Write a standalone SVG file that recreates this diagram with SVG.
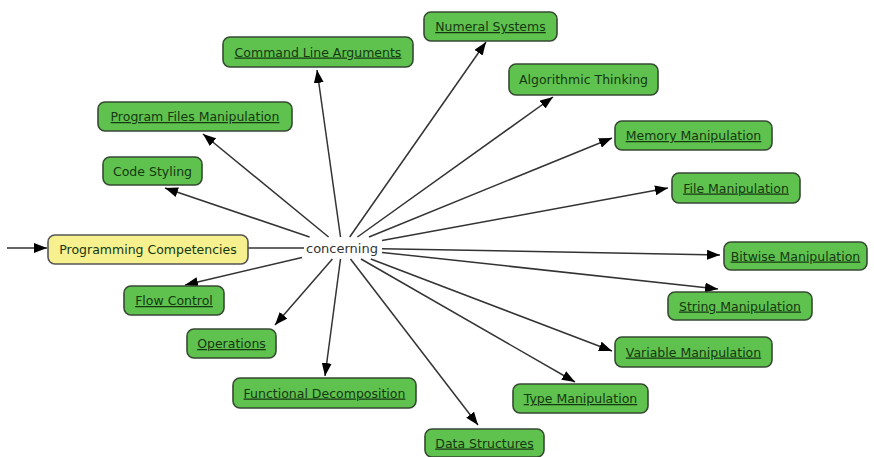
<svg xmlns="http://www.w3.org/2000/svg" width="874" height="457" viewBox="0 0 874 457">
<style>
.n rect{fill:#60c24e;stroke:#364a32;stroke-width:1.6}
.y rect{fill:#f6f08e;stroke:#555;stroke-width:1.6}
text{font-family:"DejaVu Sans",Verdana,sans-serif;font-size:12.5px;text-anchor:middle;fill:#143812}
.u{text-decoration:underline}
.c{fill:#333;font-size:13px}
#edges line{stroke:#333;stroke-width:1.5}
</style>
<defs>
<marker id="ah" markerUnits="userSpaceOnUse" markerWidth="13" markerHeight="10" refX="13" refY="5" orient="auto">
<path d="M0,0 L13,5 L0,10 z" fill="#000"/>
</marker>
</defs>
<rect width="874" height="457" fill="#fff"/>
<g id="edges">
<line x1="7" y1="248" x2="47" y2="248" marker-end="url(#ah)"/>
<line x1="248" y1="248" x2="304" y2="248"/>
<line x1="349.7" y1="237" x2="486" y2="42" marker-end="url(#ah)"/>
<line x1="340.5" y1="237" x2="317" y2="70" marker-end="url(#ah)"/>
<line x1="357.4" y1="237" x2="553" y2="97" marker-end="url(#ah)"/>
<line x1="328.6" y1="237" x2="203" y2="134" marker-end="url(#ah)"/>
<line x1="309.6" y1="237" x2="165" y2="188" marker-end="url(#ah)"/>
<line x1="369" y1="237" x2="612" y2="138" marker-end="url(#ah)"/>
<line x1="382" y1="240.6" x2="668" y2="188" marker-end="url(#ah)"/>
<line x1="382" y1="248.7" x2="720" y2="255" marker-end="url(#ah)"/>
<line x1="382" y1="252.4" x2="718" y2="289" marker-end="url(#ah)"/>
<line x1="370.8" y1="259" x2="612" y2="351" marker-end="url(#ah)"/>
<line x1="361" y1="259" x2="575" y2="382" marker-end="url(#ah)"/>
<line x1="350.5" y1="259" x2="478" y2="425" marker-end="url(#ah)"/>
<line x1="340.5" y1="259" x2="325" y2="376" marker-end="url(#ah)"/>
<line x1="332.4" y1="259" x2="275" y2="325" marker-end="url(#ah)"/>
<line x1="302" y1="257.4" x2="185" y2="285" marker-end="url(#ah)"/>
</g>
<g id="concerning"><text class="c" x="342" y="252.5">concerning</text></g>
<g id="pc" class="y"><rect x="48" y="235" width="200" height="29" rx="7"/><text x="148" y="254">Programming Competencies</text></g>
<g id="numeral" class="n"><rect x="424" y="12" width="133" height="29" rx="7"/><text class="u" x="490.5" y="31">Numeral Systems</text></g>
<g id="command" class="n"><rect x="223" y="37" width="190" height="30" rx="7"/><text class="u" x="318" y="56.5">Command Line Arguments</text></g>
<g id="algorithmic" class="n"><rect x="509" y="64" width="149" height="31" rx="7"/><text x="583.5" y="84">Algorithmic Thinking</text></g>
<g id="programfiles" class="n"><rect x="98" y="102" width="194" height="29" rx="7"/><text class="u" x="195" y="121">Program Files Manipulation</text></g>
<g id="codestyling" class="n"><rect x="103" y="157" width="99" height="28" rx="7"/><text x="152.5" y="175.5">Code Styling</text></g>
<g id="memory" class="n"><rect x="615" y="121" width="157" height="29" rx="7"/><text class="u" x="693.5" y="140">Memory Manipulation</text></g>
<g id="file" class="n"><rect x="672" y="173" width="128" height="30" rx="7"/><text class="u" x="736" y="192.5">File Manipulation</text></g>
<g id="bitwise" class="n"><rect x="724" y="242" width="143" height="28" rx="7"/><text class="u" x="795.5" y="260.5">Bitwise Manipulation</text></g>
<g id="string" class="n"><rect x="668" y="292" width="144" height="28" rx="7"/><text class="u" x="740" y="310.5">String Manipulation</text></g>
<g id="variable" class="n"><rect x="615" y="337" width="157" height="30" rx="7"/><text class="u" x="693.5" y="356.5">Variable Manipulation</text></g>
<g id="type" class="n"><rect x="513" y="384" width="135" height="29" rx="7"/><text class="u" x="580.5" y="403">Type Manipulation</text></g>
<g id="data" class="n"><rect x="425" y="429" width="119" height="28" rx="7"/><text class="u" x="484.5" y="447.5">Data Structures</text></g>
<g id="functional" class="n"><rect x="233" y="378" width="183" height="30" rx="7"/><text class="u" x="324.5" y="397.5">Functional Decomposition</text></g>
<g id="operations" class="n"><rect x="187" y="329" width="89" height="29" rx="7"/><text class="u" x="231.5" y="348">Operations</text></g>
<g id="flow" class="n"><rect x="124" y="286" width="100" height="29" rx="7"/><text class="u" x="174" y="305">Flow Control</text></g>
</svg>
